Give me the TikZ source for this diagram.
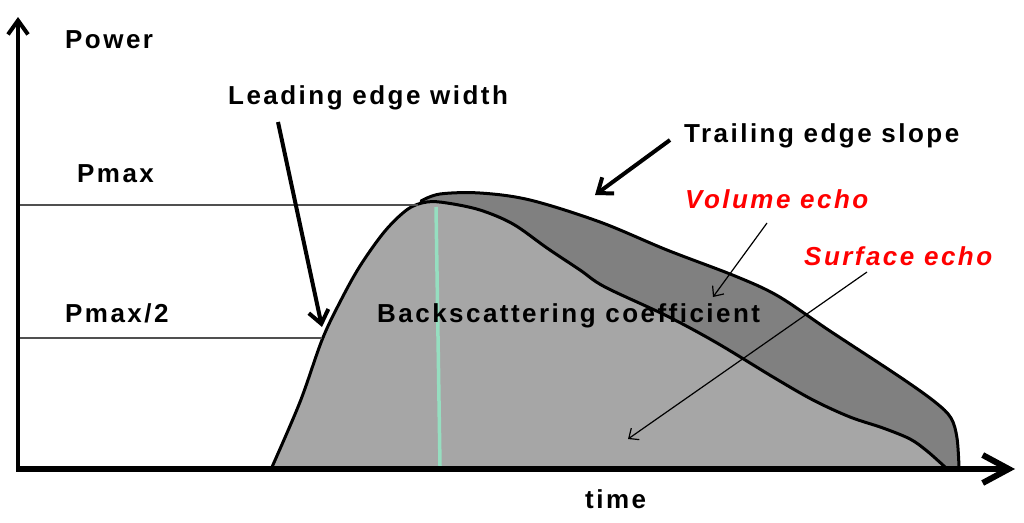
\documentclass[tikz,border=0pt]{standalone}
\usepackage{fontspec}
\newfontfamily\lab{Liberation Sans}[LetterSpace=9.5]
\usetikzlibrary{arrows.meta}
\definecolor{lightfill}{RGB}{166,166,166}
\definecolor{darkfill}{RGB}{128,128,128}
\definecolor{mint}{RGB}{150,222,192}
\definecolor{refline}{RGB}{80,80,80}
\tikzset{
  lbl/.style={inner sep=0pt, anchor=base west, font=\lab\bfseries\fontsize{26}{30}\selectfont},
  redlbl/.style={lbl, text=red, font=\lab\bfseries\itshape\fontsize{26}{30}\selectfont},
  axis/.style={line width=4pt},
  thickarrow/.style={line width=4pt, -{Straight Barb[length=13pt,width=20pt,line width=4pt]}},
  thinarrow/.style={line width=1.2pt, -{Straight Barb[length=8pt,width=14pt,line width=1.2pt]}},
  curve/.style={line width=3pt, line join=round, line cap=round},
  levelline/.style={line width=1.2pt, refline}
}
\def\outerpts{(421,201) (440,194) (480,193) (530,200) (600,222) (667,250) (735,276) (778,296) (830,331) (900,377) (935,402) (951,418) (957,438) (959,467)}
\def\innerpts{(272,467) (300,402) (322,340) (340,302) (360,266) (385,231) (408,209) (427,202) (447,203) (480,210) (513,224) (547,248) (580,270) (605,287) (667,316) (717,343) (773,377) (813,400) (850,417) (883,428) (910,439) (927,451) (945,467)}
\begin{document}
\begin{tikzpicture}[x=1pt,y=-1pt]
\useasboundingbox (0,0) rectangle (1024,522);
% dark region (volume echo)
\fill[darkfill] plot[smooth, tension=0.55] coordinates {\outerpts} -- (440,467) -- cycle;
\draw[curve] plot[smooth, tension=0.55] coordinates {\outerpts};
% light region (surface echo)
\fill[lightfill] plot[smooth, tension=0.55] coordinates {\innerpts} -- cycle;
\draw[curve] plot[smooth, tension=0.55] coordinates {\innerpts};
% peak marker
\coordinate (gtop) at (436,207);
\coordinate (gbot) at (440,466);
\draw[mint, line width=3.5pt] (gtop) -- (gbot);
% level lines
\coordinate (pmaxL) at (18,205);
\coordinate (pmaxR) at (418,205);
\coordinate (phalfL) at (18,338);
\coordinate (phalfR) at (322,338);
\draw[levelline] (pmaxL) -- (pmaxR);
\draw[levelline] (phalfL) -- (phalfR);
% axes
\coordinate (origin) at (18,470);
\coordinate (ytip) at (18,17);
\coordinate (xtip) at (1015,469);
\coordinate (xstart) at (16,469);
\draw[axis, -{Straight Barb[length=14pt,width=20pt,line width=4pt]}] (origin) -- (ytip);
\draw[line width=6pt, -{Straight Barb[length=26pt,width=28pt,line width=6pt]}] (xstart) -- (xtip);
% labels
\node[lbl] (power) at (65,48) {Power};
\node[lbl] (pmax) at (77,182) {Pmax};
\node[lbl] (phalf) at (65,322) {Pmax/2};
\node[lbl] (lew) at (228,104) {Leading edge width};
\node[lbl] (tes) at (684,142) {Trailing edge slope};
\node[redlbl] (vol) at (685,208) {Volume echo};
\node[redlbl] (surf) at (804,265) {Surface echo};
\node[lbl] (bsc) at (377,322) {Backscattering coefficient};
\node[lbl] (time) at (585,508) {time};
% pointer arrows
\coordinate (lewA) at (278,122);
\coordinate (lewB) at (322,327);
\coordinate (tesA) at (670,140);
\coordinate (tesB) at (595,195);
\coordinate (volA) at (767,223);
\coordinate (volB) at (713,297);
\coordinate (surfA) at (867,272);
\coordinate (surfB) at (628,439);
\draw[thickarrow] (lewA) -- (lewB);
\draw[thickarrow] (tesA) -- (tesB);
\draw[thinarrow] (volA) -- (volB);
\draw[thinarrow] (surfA) -- (surfB);
\end{tikzpicture}
\end{document}
